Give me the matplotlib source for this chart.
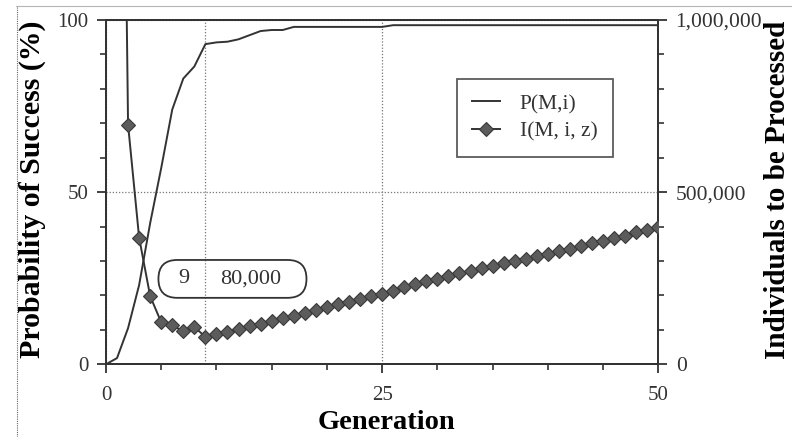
import numpy as np
import matplotlib
matplotlib.use("Agg")
import matplotlib.pyplot as plt
from matplotlib.lines import Line2D
from matplotlib.patches import FancyBboxPatch
from matplotlib.ticker import MultipleLocator, StrMethodFormatter

# Generation axis
generations = list(range(51))

# P(M,i): cumulative probability of success in percent
prob_success = [0, 1.8, 10.5, 23, 41, 57, 74, 83, 86.5, 93,
                93.5, 93.7, 94.4, 95.6, 96.8, 97.1, 97.1, 98.0, 98.0, 98.0,
                98.0, 98.0, 98.0, 98.0, 98.0, 98.0, 98.5, 98.5, 98.5, 98.5,
                98.5, 98.5, 98.5, 98.5, 98.5, 98.5, 98.5, 98.5, 98.5, 98.5,
                98.5, 98.5, 98.5, 98.5, 98.5, 98.5, 98.5, 98.5, 98.5, 98.5,
                98.5]

# I(M,i,z): individuals to be processed (gen 0 undefined, gen 1 off the chart)
individuals = [np.nan, 3300000, 696000, 368000, 198000, 122000, 113000, 96000, 108000, 80000,
               88000, 95000, 102000, 110000, 118000, 126000, 133000, 141000, 149000, 157000,
               166000, 174000, 182000, 189000, 197000, 204000, 214000, 224000, 233000, 241000,
               249000, 257000, 265000, 272000, 279000, 286000, 293000, 300000, 307000, 314000,
               321000, 328000, 336000, 344000, 352000, 359000, 366000, 374000, 383000, 391000,
               399000]

x_ticks = [0, 25, 50]
left_ticks = [0, 50, 100]
right_ticks = [0, 500000, 1000000]

INK = '#333333'
plt.rcParams['font.family'] = ['Liberation Serif', 'DejaVu Serif']
plt.rcParams['text.color'] = INK


def style_axis(ax):
    for side in ['left', 'right', 'top', 'bottom']:
        ax.spines[side].set_linewidth(1.4)
        ax.spines[side].set_color(INK)
    ax.tick_params(which='major', direction='out', length=6.5, width=1.3, colors=INK)
    ax.tick_params(which='minor', direction='out', length=4, width=1.2, colors=INK)


fig = plt.figure(figsize=(7.92, 4.37), dpi=100)
ax = fig.add_axes([0.1338, 0.1664, 0.6974, 0.7878])
ax2 = ax.twinx()

# Probability curve on the left scale
p_line, = ax.plot(generations, prob_success, color=INK, lw=1.4, zorder=3)
ax.set_xlim(0, 50)
ax.set_ylim(0, 100)
ax.set_xticks(x_ticks)
ax.set_yticks(left_ticks)
ax.xaxis.set_minor_locator(MultipleLocator(5))
ax.yaxis.set_minor_locator(MultipleLocator(10))
ax.tick_params(axis='y', which='major', labelsize=15, pad=6)
ax.tick_params(axis='x', which='major', labelsize=15, pad=9)
ax.grid(True, which='major', linestyle=(0, (1, 1.5)), color='#777777', linewidth=0.9)
style_axis(ax)

# Individuals curve on the right scale
i_line, = ax2.plot(generations, individuals, color=INK, lw=1.4, marker='D',
                   markersize=7, markerfacecolor='#5c5c5c', markeredgecolor='#383838',
                   markeredgewidth=0.8, zorder=4)
ax2.set_ylim(0, 1000000)
ax2.set_yticks(right_ticks)
ax2.yaxis.set_minor_locator(MultipleLocator(100000))
ax2.yaxis.set_major_formatter(StrMethodFormatter('{x:,.0f}'))
ax2.tick_params(axis='y', which='major', labelsize=15.5, pad=6)
style_axis(ax2)

# Minimum of I(M,i,z)
vals = np.array(individuals, dtype=float)
best_gen = int(np.nanargmin(vals))
best_val = int(vals[best_gen])
ax.axvline(best_gen, linestyle=(0, (1, 1.5)), color='#777777', linewidth=0.9, zorder=1)

# Rounded label box
p0 = ax.transData.transform((0, 0))
p1 = ax.transData.transform((1, 1))
aspect = (p1[0] - p0[0]) / (p1[1] - p0[1])
box = FancyBboxPatch((4.75, 19.3), 13.4, 11.0, boxstyle='round,pad=0,rounding_size=1.7',
                     mutation_aspect=aspect, facecolor='none', edgecolor=INK, lw=1.3, zorder=5)
ax.add_patch(box)
ax.text(7.06, 24.8, f"{best_gen}", fontsize=16, ha='center', va='center', zorder=6)
ax.text(13.1, 24.8, f"{best_val:,}", fontsize=16, ha='center', va='center', zorder=6)

# Axis labels
ax.set_xlabel('Generation', fontsize=20.5, fontweight='bold')
ax.xaxis.set_label_coords(0.508, -0.17)
ax.xaxis.label.set_va('center')
ax.set_ylabel('Probability of Success (%)', fontsize=21.5, fontweight='bold')
ax.yaxis.set_label_coords(-0.134, 0.507)
ax.yaxis.label.set_va('center')
ax2.set_ylabel('Individuals to be Processed', fontsize=21, fontweight='bold')
ax2.yaxis.set_label_coords(1.215, 0.506)
ax2.yaxis.label.set_va('center')

leg = ax2.legend([p_line, i_line], ['P(M,i)', 'I(M, i, z)'], loc='upper left',
                 bbox_to_anchor=(0.636, 0.829), borderaxespad=0, fontsize=15.5,
                 frameon=True, fancybox=False, handlelength=1.3, labelspacing=0.35,
                 borderpad=0.7, handletextpad=0.9)
leg.get_frame().set_edgecolor(INK)
leg.get_frame().set_linewidth(1.3)

# Scan border
fig.add_artist(Line2D([0.02, 1.0], [0.986, 0.986], transform=fig.transFigure,
                      color='#b5b5b5', lw=0.8))
fig.add_artist(Line2D([0.021, 0.021], [0.0, 0.986], transform=fig.transFigure,
                      color='#666666', lw=0.8, linestyle=(0, (1, 1))))

fig.savefig('out.png', dpi=100)
